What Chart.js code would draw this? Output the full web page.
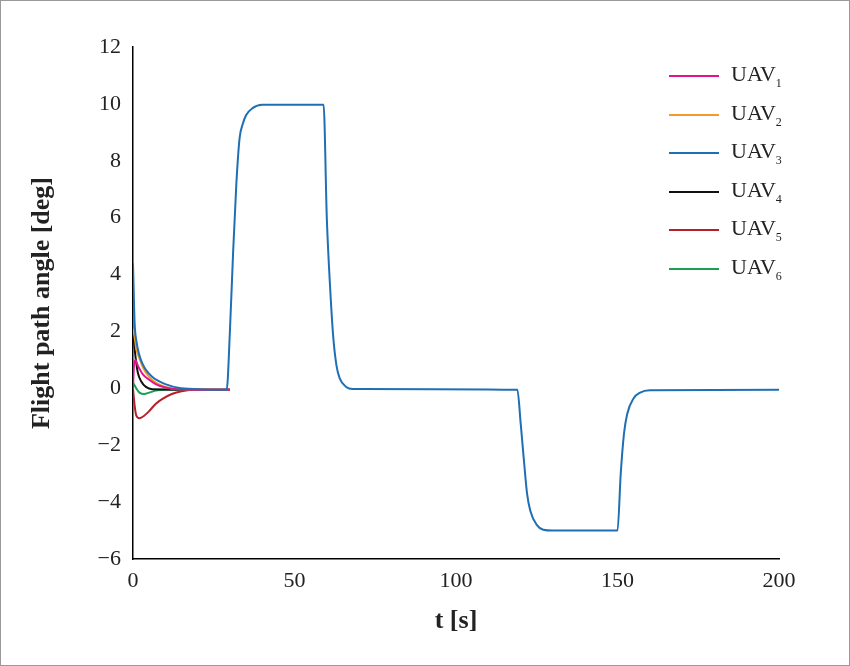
<!DOCTYPE html>
<html><head><meta charset="utf-8">
<script src="https://cdn.jsdelivr.net/npm/chart.js@4"></script>
<style>
body{margin:0;background:#fff}
#wrap{position:relative;width:848px;height:664px;border:1px solid #999}
#legend{position:absolute;left:668px;top:56px;font-family:'Liberation Serif',serif;font-size:22px;color:#222}
.it{display:flex;align-items:center;height:38.5px}
.sw{width:50px;height:2px;margin-right:12px}
sub{font-size:12px;vertical-align:-6px}
</style></head><body>
<div id="wrap"><canvas id="c" width="848" height="664"></canvas><div id="legend"></div></div>
<script>
const labels = ['UAV', 'UAV', 'UAV', 'UAV', 'UAV', 'UAV'];
const colors = ['#e0158c', '#f39a2a', '#1f6fb4', '#111111', '#b5202a', '#1aa050'];
const uav1 = [[0,0],[0.3,0.8],[0.7,1.0],[1.5,0.8],[3,0.5],[5,0.3],[7,0.15],[10,0.03],[14,-0.03],[30,-0.05]];
const uav2 = [[0,2.1],[0.5,1.8],[1,1.4],[2,1.05],[3,0.75],[5,0.4],[7,0.2],[10,0.05],[14,-0.03],[30,-0.05]];
const uav4 = [[0,2.0],[0.5,1.4],[1,0.9],[1.5,0.55],[2.5,0.25],[4,0.05],[6,-0.03],[30,-0.05]];
const uav5 = [[0,0],[0.5,-0.6],[1,-0.95],[2,-1.05],[3,-1.0],[5,-0.8],[7,-0.55],[9,-0.38],[12,-0.2],[15,-0.1],[20,-0.05],[30,-0.05]];
const uav6 = [[0,0.2],[1,0.0],[2,-0.15],[3.5,-0.2],[5,-0.15],[7,-0.08],[10,-0.05],[30,-0.05]];
const uav3 = [[0,4.4],[0.5,2.3],[1,1.7],[2,1.15],[3,0.85],[4,0.65],[6,0.4],[8,0.25],[10,0.15],[14,0.02],[20,-0.03],[29,-0.05],
  [30,2.0],[31,4.8],[32,7.2],[33,8.8],[34,9.3],[35,9.6],[37,9.85],[40,9.97],[59,9.97],
  [60,6.0],[61,3.6],[62,1.8],[63,0.8],[64,0.35],[66,0.05],[68,-0.02],[119,-0.05],
  [120,-1.2],[121,-2.5],[122,-3.7],[123,-4.3],[125,-4.8],[127,-4.97],[130,-5.0],[150,-5.0],
  [151,-3.0],[152,-1.6],[153,-0.9],[155,-0.35],[157,-0.15],[160,-0.07],[200,-0.05]];
const series = [uav1, uav2, uav3, uav4, uav5, uav6];
const xTicks = [0, 50, 100, 150, 200];
const yTicks = [-6, -4, -2, 0, 2, 4, 6, 8, 10, 12];

const leg = document.getElementById('legend');
labels.forEach((l, i) => {
  leg.innerHTML += `<div class="it"><div class="sw" style="background:${colors[i]}"></div><span>${l}<sub>${i+1}</sub></span></div>`;
});

const datasets = series.map((s, i) => ({
  label: labels[i] + (i+1),
  data: s.map(p => ({x: p[0], y: p[1]})),
  borderColor: colors[i], borderWidth: 2, pointRadius: 0, cubicInterpolationMode: 'monotone',
  order: i === 2 ? 0 : 1
}));
const font = {family: "'Liberation Serif', serif", size: 22};
new Chart(document.getElementById('c'), {
  type: 'line',
  data: { datasets },
  options: {
    animation: false, responsive: false,
    layout: { padding: { top: 46, right: 70, left: 22, bottom: 24 } },
    plugins: { legend: { display: false }, tooltip: { enabled: false } },
    scales: {
      x: {
        type: 'linear', min: 0, max: 200,
        afterBuildTicks: a => { a.ticks = xTicks.map(v => ({value: v})); },
        afterFit: a => { a.height = 82; },
        grid: { display: false, drawTicks: true, tickLength: 7, tickColor: '#000' },
        border: { color: '#000', width: 1.5 },
        ticks: { color: '#222', font, padding: 2 },
        title: { display: true, text: 't [s]', color: '#222', font: {family: font.family, size: 26, weight: 'bold'}, padding: {top: 0} }
      },
      y: {
        min: -6, max: 12,
        afterBuildTicks: a => { a.ticks = yTicks.map(v => ({value: v})); },
        afterFit: a => { a.width = 110; },
        grid: { display: false, drawTicks: true, tickLength: 8, tickColor: '#000' },
        border: { color: '#000', width: 1.5 },
        ticks: { color: '#222', font, padding: 4, callback: v => v < 0 ? '\u2212' + Math.abs(v) : v },
        title: { display: true, text: 'Flight path angle [deg]', color: '#222', font: {family: font.family, size: 26, weight: 'bold'} }
      }
    }
  }
});
</script></body></html>
